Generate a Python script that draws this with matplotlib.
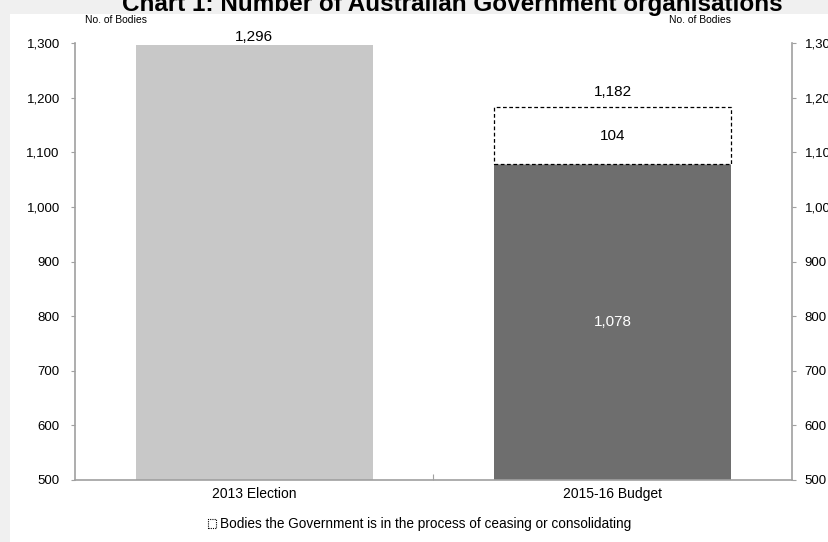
import matplotlib.pyplot as plt
from matplotlib.patches import Rectangle, Patch

plt.rcParams['font.family'] = ['Liberation Sans', 'DejaVu Sans']

# 数据
categories = ['2013 Election', '2015-16 Budget']
bodies = [1296, 1078]
ceasing = [0, 104]
totals = [1296, 1182]
yticks = [500, 600, 700, 800, 900, 1000, 1100, 1200, 1300]

fig = plt.figure(figsize=(8.29, 5.42), dpi=100)
fig.patch.set_facecolor('#f0f0f0')
# 白色面板
fig.patches.append(Rectangle((10 / 829, 0), 1, 1 - 14 / 542, transform=fig.transFigure,
                             facecolor='white', edgecolor='none', zorder=-10))

ax = fig.add_axes([75 / 829, 1 - 480 / 542, 717 / 829, 437 / 542])
ax.set_facecolor('none')

x = range(len(categories))
ax.bar(x, [b - 500 for b in bodies], bottom=500, width=0.66,
       color=['#c8c8c8', '#6e6e6e'], zorder=2)
ax.bar(x[1], ceasing[1], bottom=bodies[1], width=0.66, facecolor='white',
       edgecolor='black', linestyle=(0, (3, 2)), linewidth=0.9, zorder=2)

ax.set_xlim(-0.5, 1.5)
ax.set_ylim(500, 1300)
ax.set_yticks(yticks)
ax.set_yticklabels([f'{v:,}' for v in yticks], fontsize=9.5)
ax.set_xticks([0.5])
ax.set_xticklabels([''])
ax.tick_params(axis='x', direction='in', length=4, color='#a0a0a0')
ax.tick_params(axis='y', direction='out', length=3, color='#a0a0a0', pad=8)
for i, c in enumerate(categories):
    ax.text(i, 488, c, ha='center', va='top', fontsize=10)

for s in ['left', 'right', 'bottom']:
    ax.spines[s].set_color('#a0a0a0')
    ax.spines[s].set_linewidth(1.2)
ax.spines['top'].set_visible(False)

ax2 = ax.twinx()
ax2.set_ylim(500, 1300)
ax2.set_yticks(yticks)
ax2.set_yticklabels([f'{v:,}' for v in yticks], fontsize=9.5)
ax2.tick_params(axis='y', direction='out', length=3, color='#a0a0a0', pad=6)
for s in ['left', 'right', 'bottom', 'top']:
    ax2.spines[s].set_visible(False)

# 数值标签
ax.text(0, totals[0] + 3, f'{totals[0]:,}', ha='center', va='bottom', fontsize=11)
ax.text(1, totals[1] + 16, f'{totals[1]:,}', ha='center', va='bottom', fontsize=11)
ax.text(1, bodies[1] + ceasing[1] / 2, f'{ceasing[1]:,}', ha='center', va='center', fontsize=11)
ax.text(1, (bodies[1] + 500) / 2, f'{bodies[1]:,}', ha='center', va='center',
        fontsize=11, color='white')

fig.text(116 / 829, 1 - 20 / 542, 'No. of Bodies', ha='center', va='center', fontsize=7.5)
fig.text(700 / 829, 1 - 20 / 542, 'No. of Bodies', ha='center', va='center', fontsize=7.5)
fig.text(452 / 829, 1 - 11 / 542, 'Chart 1: Number of Australian Government organisations',
         ha='center', va='baseline', fontsize=17.5, fontweight='bold')

handle = Patch(facecolor='white', edgecolor='black', linestyle=(0, (1, 1)), linewidth=0.8)
fig.legend([handle], ['Bodies the Government is in the process of ceasing or consolidating'],
           loc='center', bbox_to_anchor=(420 / 829, 1 - 524 / 542), frameon=False,
           fontsize=9.8, handlelength=0.6, handleheight=0.6, handletextpad=0.3)

plt.savefig('out.png', dpi=100, facecolor=fig.get_facecolor())
